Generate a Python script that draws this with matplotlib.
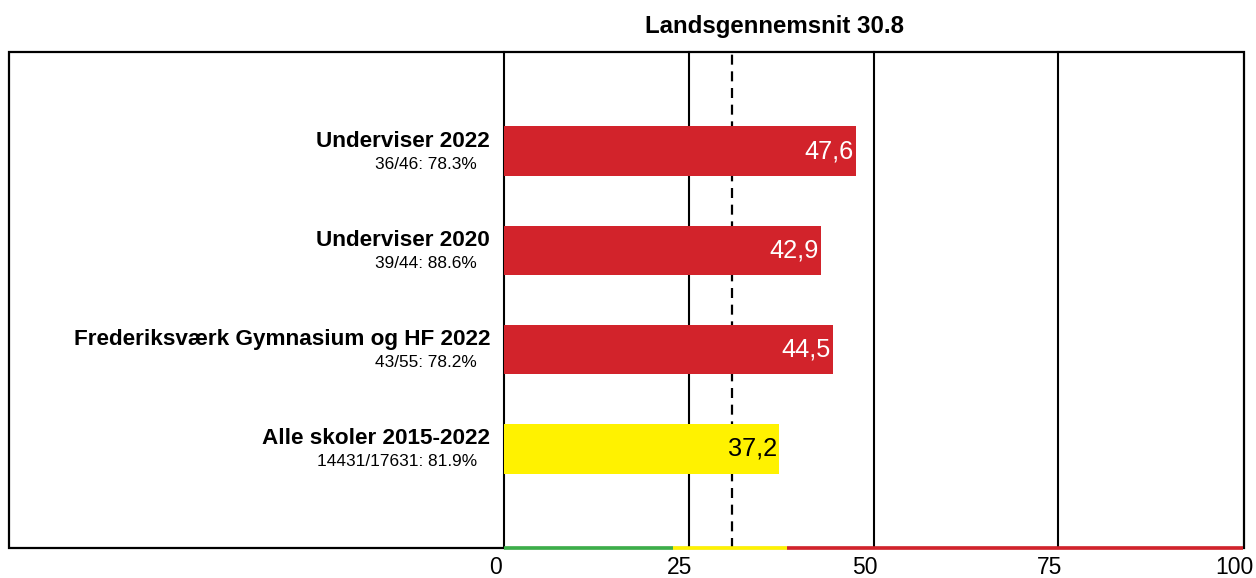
import matplotlib
matplotlib.use("Agg")
import matplotlib.pyplot as plt
from matplotlib.patches import Rectangle
from matplotlib.transforms import ScaledTranslation

plt.rcParams["font.family"] = ["Liberation Sans", "DejaVu Sans"]

# ---- data ----
labels = ["Underviser 2022", "Underviser 2020",
          "Frederiksværk Gymnasium og HF 2022", "Alle skoler 2015-2022"]
sublabels = ["36/46: 78.3%", "39/44: 88.6%", "43/55: 78.2%", "14431/17631: 81.9%"]
values = [47.6, 42.9, 44.5, 37.2]
bar_colors = ["#d2232b", "#d2232b", "#d2232b", "#fff200"]
value_colors = ["white", "white", "white", "black"]
avg = 30.8
ticks = [0, 25, 50, 75, 100]
# farvebånd på x-aksen: (fra, til, farve)
bands = [(0, 22.9, "#3cae49"), (22.9, 38.3, "#fff200"), (38.3, 100, "#d2232b")]

W, H = 1256, 578
fig = plt.figure(figsize=(W / 100, H / 100), dpi=100)
ax = fig.add_axes([504 / W, 30 / H, (1243 - 504) / W, (548 - 52) / H])
ax.patch.set_visible(False)

ypos = list(range(1, len(values) + 1))
ax.barh(ypos, values, height=0.5, color=bar_colors, zorder=3)
ax.set_xlim(0, 100)
ax.set_ylim(5, 0)

for s in ax.spines.values():
    s.set_visible(False)
ax.set_yticks([])
ax.set_xticks(ticks)
ax.set_xticklabels([str(t) for t in ticks], fontsize=16.5)
ax.tick_params(axis="x", length=0, pad=6)
for lab in ax.get_xticklabels():
    lab.set_transform(lab.get_transform() + ScaledTranslation(-9 / 100, 0, fig.dpi_scale_trans))

# gitterlinjer
for t in ticks[:-1]:
    ax.axvline(t, color="black", lw=1.5, zorder=2, clip_on=False)
ax.axvline(avg, color="black", lw=1.6, ls=(0, (4.5, 3)), zorder=2)

# ramme om hele diagrammet
fig.patches.append(Rectangle((9 / W, 30 / H), (1244 - 9) / W, (548 - 52) / H,
                             transform=fig.transFigure, fill=False,
                             edgecolor="black", lw=1.6, zorder=-1))

# farvet bund-linje
for a, b, c in bands:
    ax.plot([a, b], [5, 5], color=c, lw=2.6, solid_capstyle="butt",
            clip_on=False, zorder=6)

for y, lab, sub, v, vc in zip(ypos, labels, sublabels, values, value_colors):
    ax.annotate(lab, xy=(0, y), xycoords=("axes fraction", "data"),
                xytext=(-14, 10), textcoords="offset pixels",
                ha="right", va="center", fontsize=16.2, fontweight="bold")
    ax.annotate(sub, xy=(0, y), xycoords=("axes fraction", "data"),
                xytext=(-27, -13), textcoords="offset pixels",
                ha="right", va="center", fontsize=12.4)
    ax.annotate(f"{v:.1f}".replace(".", ","), xy=(v, y),
                xytext=(-2, 0), textcoords="offset pixels",
                ha="right", va="center", fontsize=18.3, color=vc, zorder=5)

fig.text(775 / W, 1 - 27 / H, f"Landsgennemsnit {avg}", ha="center", va="center",
         fontsize=17.3, fontweight="bold")

fig.savefig("out.png", dpi=100)
